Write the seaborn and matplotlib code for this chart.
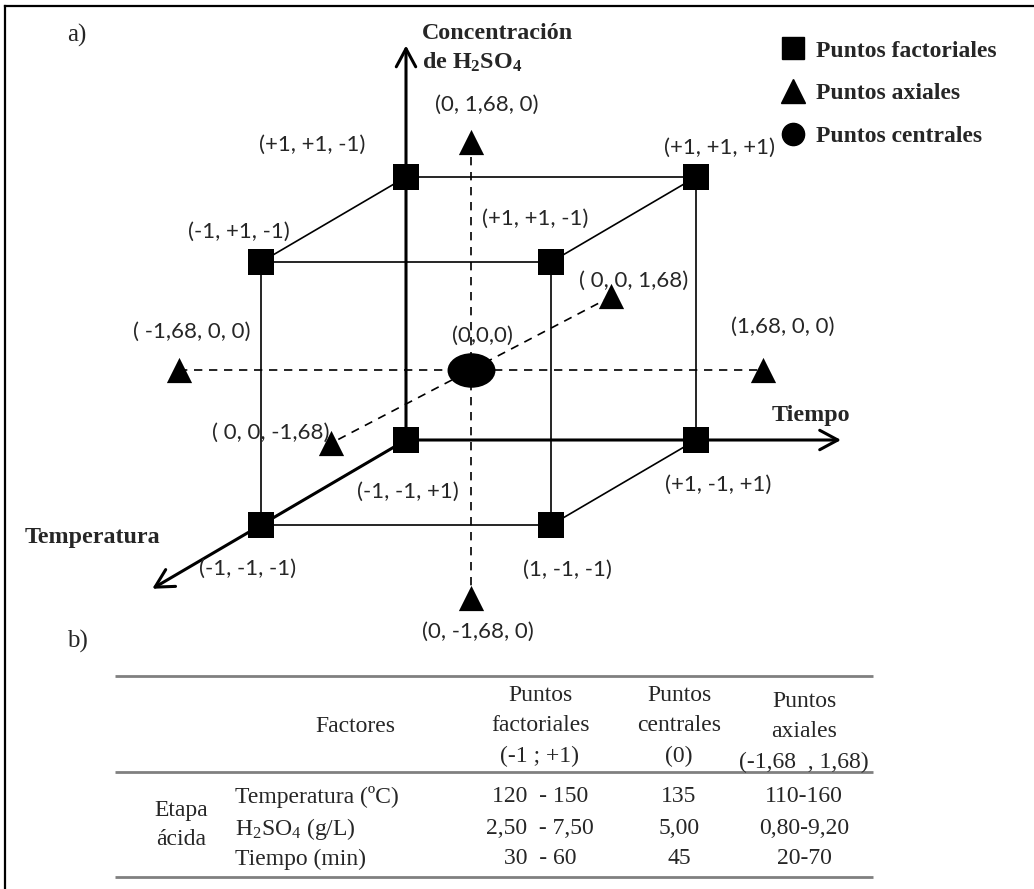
import itertools

import matplotlib
matplotlib.use("Agg")
import matplotlib.pyplot as plt
from matplotlib.lines import Line2D
from matplotlib.path import Path
import numpy as np
import pandas as pd
import seaborn as sns

# ---- a) central composite design, coded levels (x = Tiempo, y = H2SO4, z = Temperatura)
factorial_levels = [-1, 1]
alpha = 1.68
axial_x = [-alpha, alpha, 0, 0, 0, 0]
axial_y = [0, 0, alpha, -alpha, 0, 0]
axial_z = [0, 0, 0, 0, alpha, -alpha]
center_x, center_y, center_z = [0], [0], [0]

# labels as printed in the figure (same order as itertools.product)
factorial_labels = ["(-1, -1, -1)", "(-1, -1, +1)", "(-1, +1, -1)", "(+1, +1, -1)",
                    "(1, -1, -1)", "(+1, -1, +1)", "(+1, +1, -1)", "(+1, +1, +1)"]
axial_labels = ["( -1,68, 0, 0)", "(1,68, 0, 0)", "(0, 1,68, 0)", "(0, -1,68, 0)",
                "( 0, 0, 1,68)", "( 0, 0, -1,68)"]
center_label = "(0,0,0)"
legend_labels = ["Puntos factoriales", "Puntos axiales", "Puntos centrales"]

# ---- b) table
header_factor = "Factores"
header_factorial = ["Puntos", "factoriales", "(-1 ; +1)"]
header_central = ["Puntos", "centrales", "(0)"]
header_axial = ["Puntos", "axiales", "(-1,68  , 1,68)"]
stage = ["Etapa", "ácida"]
factors = ["Temperatura (ºC)", "H$_2$SO$_4$ (g/L)", "Tiempo (min)"]
factorial_range = ["120  - 150", "2,50  - 7,50", "30  - 60"]
central_value = ["135", "5,00", "45"]
axial_range = ["110-160", "0,80-9,20", "20-70"]

# ---- oblique projection (canvas units = pixels)
cube_origin = np.array([478.5, 351.0])
cube_axes = np.array([[145.0, 0.0], [0.0, -131.5], [72.5, -42.5]])
star_origin = np.array([471.0, 370.0])
star_axes = np.array([[174.1, 0.0], [0.0, -135.7], [83.6, -43.75]])


def project(x, y, z, origin, axes):
    xyz = np.column_stack([np.atleast_1d(x), np.atleast_1d(y), np.atleast_1d(z)]).astype(float)
    p = origin + xyz @ axes
    return pd.DataFrame({"px": p[:, 0], "py": p[:, 1]})


sns.set_theme(style="white")
plt.rcParams["font.family"] = ["Lato", "DejaVu Sans"]
plt.rcParams["mathtext.fontset"] = "custom"
plt.rcParams["mathtext.rm"] = "Liberation Serif"
plt.rcParams["mathtext.it"] = "Liberation Serif:italic"
plt.rcParams["mathtext.bf"] = "Liberation Serif:bold"

fig = plt.figure(figsize=(10.34, 8.89), dpi=100)
ax = fig.add_axes([5 / 1034, 0, 1029 / 1034, 883 / 889])
for side in ["right", "bottom"]:
    ax.spines[side].set_visible(False)
for side in ["left", "top"]:
    ax.spines[side].set_color("black")
    ax.spines[side].set_linewidth(1.6)

serif_bold = dict(family="Liberation Serif", weight="bold", size=17.3)
serif = dict(family="Liberation Serif", size=17)
label_size = 16

# cube edges
cube = np.array(list(itertools.product(factorial_levels, repeat=3)))
cube_df = project(cube[:, 0], cube[:, 1], cube[:, 2], cube_origin, cube_axes)
for i, j in itertools.combinations(range(len(cube)), 2):
    if np.sum(cube[i] != cube[j]) == 1:
        ax.plot(cube_df.px[[i, j]], cube_df.py[[i, j]], color="black", lw=1.2, zorder=2)

# coordinate axes drawn from the corner (-1, -1, +1)
axis_start = project(-1, -1, 1, cube_origin, cube_axes).iloc[0]
axis_tips = project([2.0, -1, -1], [-1, 2.0, -1], [1, 1, -2.5], cube_origin, cube_axes)
for _, tip in axis_tips.iterrows():
    ax.annotate("", xy=(tip.px, tip.py), xytext=(axis_start.px, axis_start.py),
                arrowprops=dict(arrowstyle="->,head_length=0.65,head_width=0.35",
                                lw=2.2, color="black", shrinkA=0, shrinkB=0,
                                mutation_scale=20), zorder=3)

# axial (star) lines
star_df = project(axial_x, axial_y, axial_z, star_origin, star_axes)
for k in range(0, 6, 2):
    ax.plot(star_df.px[k:k + 2], star_df.py[k:k + 2], color="black", lw=1.2,
            ls=(0, (5, 4)), zorder=2)

# markers
sns.scatterplot(data=cube_df, x="px", y="py", marker="s", s=360, color="black",
                edgecolor="black", linewidth=0, zorder=4, ax=ax, legend=False)
sns.scatterplot(data=star_df, x="px", y="py", marker="^", s=330, color="black",
                edgecolor="black", linewidth=0, zorder=4, ax=ax, legend=False)
unit = Path.unit_circle()
ellipse = Path(unit.vertices * [1.0, 0.72], unit.codes)
center_df = project(center_x, center_y, center_z, star_origin, star_axes)
sns.scatterplot(data=center_df, x="px", y="py", marker=ellipse, s=1190, color="black",
                edgecolor="black", linewidth=0, zorder=4, ax=ax, legend=False)

# point labels
factorial_offsets = [(-13, 44), (2, 52), (-22, -30), (-94, -32),
                     (16, 45), (22, 45), (-16, -43), (24, -29)]
axial_offsets = [(13, -38), (19, -43), (16, -37), (7, 34), (22, -16), (-60, -11)]
for (_, p), lab, (dx, dy) in zip(cube_df.iterrows(), factorial_labels, factorial_offsets):
    ax.text(p.px + dx, p.py + dy, lab, ha="center", va="center", fontsize=label_size, zorder=5)
for (_, p), lab, (dx, dy) in zip(star_df.iterrows(), axial_labels, axial_offsets):
    ax.text(p.px + dx, p.py + dy, lab, ha="center", va="center", fontsize=label_size, zorder=5)
c = center_df.iloc[0]
ax.text(c.px + 11, c.py - 34, center_label, ha="center", va="center", fontsize=label_size, zorder=5)

# axis titles
ax.text(422, 39, "Concentración", ha="left", va="baseline", **serif_bold)
ax.text(422, 69, r"de H$_\mathbf{2}$SO$_\mathbf{4}$", ha="left", va="baseline", **serif_bold)
ax.text(811, 416, "Tiempo", ha="center", va="center", **serif_bold)
ax.text(92, 538, "Temperatura", ha="center", va="center", **serif_bold)

# legend
handles = [Line2D([], [], marker=m, color="black", linestyle="none", markersize=ms)
           for m, ms in zip(["s", "^", "o"], [16, 17, 16])]
ax.legend(handles, legend_labels, loc="upper left", bbox_to_anchor=(781, 40),
          bbox_transform=ax.transData, frameon=False, borderpad=0, borderaxespad=0,
          handlelength=1.0, handletextpad=0.5, labelspacing=0.9,
          prop=dict(family="Liberation Serif", weight="bold", size=17))

# panel letters
ax.text(77, 35, "a)", ha="center", va="center", family="Liberation Serif", size=18)
ax.text(77, 641, "b)", ha="center", va="center", family="Liberation Serif", size=18)

# ---- table
ax.hlines([676, 772, 877], 115, 873, color="#808080", lw=2)
ax.text(355, 727, header_factor, ha="center", va="center", **serif)
for col_x, lines, y0 in [(540, header_factorial, 696), (679, header_central, 696),
                         (804, header_axial, 702)]:
    for k, line in enumerate(lines):
        ax.text(col_x, y0 + 30 * k, line, ha="center", va="center", **serif)
row_y = [797, 829, 859]
for y, f, a, b, d in zip(row_y, factors, factorial_range, central_value, axial_range):
    ax.text(235, y, f, ha="left", va="center", **serif)
    ax.text(540, y, a, ha="center", va="center", **serif)
    ax.text(679, y, b, ha="center", va="center", **serif)
    ax.text(804, y, d, ha="center", va="center", **serif)
for k, word in enumerate(stage):
    ax.text(181, 811 + 29 * k, word, ha="center", va="center", **serif)

ax.set_xlim(5, 1034)
ax.set_ylim(889, 6)
ax.set_xticks([])
ax.set_yticks([])
ax.set_xlabel("")
ax.set_ylabel("")

fig.savefig("out.png", dpi=100)
